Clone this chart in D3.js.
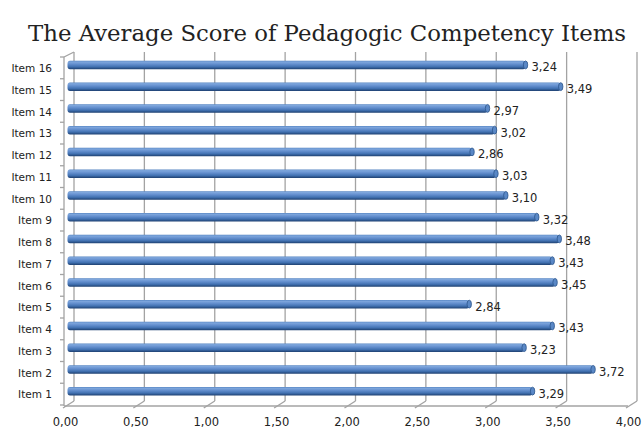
<!DOCTYPE html>
<html>
<head>
<meta charset="utf-8">
<script src="https://cdn.jsdelivr.net/npm/d3@7"></script>
<style>
body { margin: 0; background: #fff; }
</style>
</head>
<body>
<svg width="643" height="428"></svg>
<script>
var categories = ["Item 1", "Item 2", "Item 3", "Item 4", "Item 5", "Item 6", "Item 7", "Item 8",
	"Item 9", "Item 10", "Item 11", "Item 12", "Item 13", "Item 14", "Item 15", "Item 16"];
var scores = [3.29, 3.72, 3.23, 3.43, 2.84, 3.45, 3.43, 3.48, 3.32, 3.10, 3.03, 2.86, 3.02, 2.97, 3.49, 3.24];
var xTicks = [0, 0.5, 1, 1.5, 2, 2.5, 3, 3.5, 4];

var svg = d3.select("svg");
var comma = function(d){ return d3.format(".2f")(d).replace(".", ","); };

// 3d depth offset (back wall is shifted right and up)
var dx = 9, dy = -5;
var floorY = 406, topY = 57;

var x = d3.scaleLinear().domain([0, 4]).range([65, 628]);
var y = d3.scaleBand().domain(categories.slice().reverse()).range([topY, floorY - 1]);

var grid = "#a3a3a3";

var defs = svg.append("defs");
var grad = defs.append("linearGradient").attr("id", "barGrad").attr("x1", 0).attr("y1", 0).attr("x2", 0).attr("y2", 1);
[["0%", "#4f7fbe"], ["15%", "#7fa7dd"], ["40%", "#6590cf"], ["72%", "#4272b2"], ["100%", "#1f4273"]].forEach(function(s){
	grad.append("stop").attr("offset", s[0]).attr("stop-color", s[1]);
});

svg.append("text")
	.attr("x", 327).attr("y", 41)
	.attr("text-anchor", "middle")
	.attr("font-family", "'DejaVu Serif', serif")
	.attr("font-size", "23px")
	.attr("fill", "#222")
	.attr("textLength", 598).attr("lengthAdjust", "spacingAndGlyphs")
	.text("The Average Score of Pedagogic Competency Items");

// back wall gridlines
svg.append("g").selectAll("line").data(xTicks).enter().append("line")
	.attr("x1", function(d){ return x(d) + dx; }).attr("x2", function(d){ return x(d) + dx; })
	.attr("y1", topY + dy).attr("y2", floorY + dy)
	.attr("stroke", grid).attr("stroke-width", 1.3);

// floor: front edge and slanted ticks
svg.append("line").attr("x1", x(0) - 1).attr("x2", x(4)).attr("y1", floorY).attr("y2", floorY)
	.attr("stroke", grid).attr("stroke-width", 1.3);
svg.append("g").selectAll("line").data(xTicks).enter().append("line")
	.attr("x1", function(d){ return x(d) - 2; }).attr("y1", floorY + 2)
	.attr("x2", function(d){ return x(d) + dx; }).attr("y2", floorY + dy)
	.attr("stroke", grid).attr("stroke-width", 1.3);

// left axis with slanted top
svg.append("line").attr("x1", x(0) - 1).attr("x2", x(0) - 1).attr("y1", topY).attr("y2", floorY)
	.attr("stroke", grid).attr("stroke-width", 1.3);
svg.append("line").attr("x1", x(0) - 1).attr("y1", topY).attr("x2", x(0) + dx).attr("y2", topY + dy)
	.attr("stroke", grid).attr("stroke-width", 1.3);
var bounds = categories.map(function(c){ return y(c); }).concat([floorY - 1]);
svg.append("g").selectAll("line").data(bounds).enter().append("line")
	.attr("x1", x(0) - 5).attr("x2", x(0) - 1)
	.attr("y1", function(d){ return d; }).attr("y2", function(d){ return d; })
	.attr("stroke", grid).attr("stroke-width", 1.3);

// category labels
var yAxis = svg.append("g").attr("transform", "translate(" + (x(0) - 1) + ",0)")
	.call(d3.axisLeft(y).tickSize(0).tickPadding(12));
yAxis.select(".domain").remove();
yAxis.selectAll("text").attr("font-family", "'DejaVu Sans', Verdana, sans-serif")
	.attr("font-size", "10.5px").attr("fill", "#222").attr("dy", "0.4em");

// value axis labels
var xAxis = svg.append("g").attr("transform", "translate(0," + floorY + ")")
	.call(d3.axisBottom(x).tickValues(xTicks).tickFormat(comma).tickSize(0).tickPadding(12));
xAxis.select(".domain").remove();
xAxis.selectAll("text").attr("font-family", "'DejaVu Sans', Verdana, sans-serif")
	.attr("font-size", "11.5px").attr("fill", "#222");

// bars, sitting half way into the depth
var mx = dx / 2, my = dy / 2 - 0.5, bh = 8.5;
var bars = svg.append("g").selectAll("g").data(scores).enter().append("g")
	.attr("transform", function(d, i){ return "translate(" + mx + "," + (y(categories[i]) + y.bandwidth() / 2 + my) + ")"; });
bars.append("rect")
	.attr("x", x(0) - 2).attr("y", -bh / 2)
	.attr("width", function(d){ return x(d) - x(0) + 2; }).attr("height", bh)
	.attr("rx", 2.5).attr("ry", 3)
	.attr("fill", "url(#barGrad)");
bars.append("ellipse")
	.attr("cx", function(d){ return x(d); }).attr("cy", 0)
	.attr("rx", 2.2).attr("ry", bh / 2 - 0.3)
	.attr("fill", "#5a88c6").attr("stroke", "#2c558c").attr("stroke-width", 0.8);

// value labels
svg.append("g").selectAll("text").data(scores).enter().append("text")
	.attr("x", function(d){ return x(d) + mx + 6; })
	.attr("y", function(d, i){ return y(categories[i]) + y.bandwidth() / 2 - 0.5; })
	.attr("dy", "0.35em")
	.attr("font-family", "'DejaVu Sans', Verdana, sans-serif")
	.attr("font-size", "11.5px").attr("fill", "#222")
	.text(function(d){ return comma(d); });
</script>
</body>
</html>
